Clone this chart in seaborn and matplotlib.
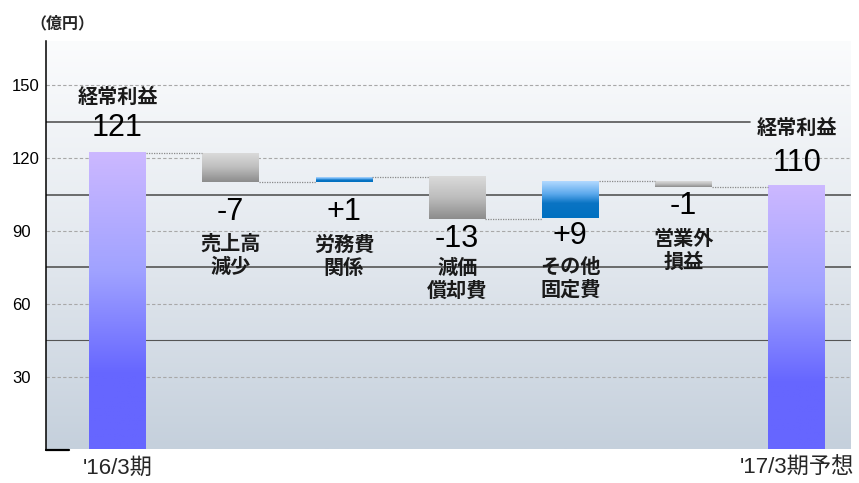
import numpy as np
import pandas as pd
import matplotlib
matplotlib.use("Agg")
import matplotlib.pyplot as plt
from matplotlib.colors import LinearSegmentedColormap
import seaborn as sns

# ---------------- data ----------------
steps = ["'16/3期", "売上高減少", "労務費関係", "減価償却費", "その他固定費", "営業外損益", "'17/3期予想"]
bar_low = [0.0, 110.3, 110.3, 95.0, 95.5, 108.3, 0.0]
bar_high = [122.2, 122.2, 112.1, 112.7, 110.6, 110.6, 108.6]
kinds = ["total", "down", "up", "down", "up", "down", "total"]
value_labels = ["121", "-7", "+1", "-13", "+9", "-1", "110"]
item_labels = ["経常利益", "売上高\n減少", "労務費\n関係", "減価\n償却費", "その他\n固定費", "営業外\n損益", "経常利益"]
xtick_labels = ["'16/3期", "'17/3期予想"]
xtick_pos = [0, 6]
yticks = [30, 60, 90, 120, 150]
major_lines = [45, 75, 105, 135]
unit_label = "（億円）"

# ---------------- layout / style ----------------
num_offset_px = [25, -30, -30, -20, -18, -19, 23]
item_offset_px = [56, -74, -75, -61, -61, -64, 58]
major_line_xmax = [1.0, 1.0, 1.0, 0.875]
major_line_width = [0.8, 1.2, 1.2, 1.2]

sns.set_style("white")
plt.rcParams["font.family"] = ["Liberation Sans", "Noto Sans CJK JP"]

fig = plt.figure(figsize=(8.59, 4.83), dpi=100)
W, H = 859, 483
ax = fig.add_axes([46 / W, 1 - 449.5 / H, (851 - 46) / W, (449.5 - 41) / H])

df = pd.DataFrame({"step": steps, "span": np.array(bar_high) - np.array(bar_low)})
sns.barplot(data=df, x="step", y="span", order=steps, width=0.5, ax=ax,
            color="white", edgecolor="none", zorder=2)

# background gradient
bg_cmap = LinearSegmentedColormap.from_list("bg", ["#c5d0dc", "#e4e9ef", "#fbfcfd"])
ax.imshow(np.linspace(1, 0, 256).reshape(-1, 1), cmap=bg_cmap, aspect="auto",
          extent=[0, 1, 0, 1], transform=ax.transAxes, zorder=0, vmin=0, vmax=1)

cmaps = {
    "total": LinearSegmentedColormap.from_list(
        "tot", [(0, "#6666ff"), (0.25, "#6666ff"), (0.6, "#a0a2ff"), (1.0, "#ccb8ff")]),
    "down": LinearSegmentedColormap.from_list(
        "dn", [(0, "#8c8c8c"), (0.5, "#bdbdbd"), (1.0, "#dadada")]),
    "up": LinearSegmentedColormap.from_list(
        "up", [(0, "#0070c0"), (0.4, "#0a74c4"), (0.65, "#5aa8ec"), (1.0, "#b2d9ff")]),
}

patches = list(ax.patches)
for i, p in enumerate(patches):
    lo, hi = bar_low[i], bar_high[i]
    p.set_y(lo)
    p.set_height(hi - lo)
    p.set_facecolor("none")
    x0 = p.get_x()
    x1 = x0 + p.get_width()
    grad = np.linspace(1, 0, 128).reshape(-1, 1)
    ax.imshow(grad, cmap=cmaps[kinds[i]], aspect="auto", extent=[x0, x1, lo, hi],
              zorder=2, vmin=0, vmax=1)

# grid lines
for v in yticks:
    ax.axhline(v, xmax=0.997, color="#a8a8a8", lw=0.8, ls=(0, (3, 2)), zorder=1)
for v, xm, lw in zip(major_lines, major_line_xmax, major_line_width):
    ax.axhline(v, xmax=xm, color="#555555", lw=lw, ls="-", zorder=1)

# connectors
for i in range(len(steps) - 1):
    lvl = bar_low[i] if kinds[i] == "down" else bar_high[i]
    ax.plot([i + 0.25, i + 0.75], [lvl, lvl], ls=(0, (1, 1)), color="#8a8a8a",
            lw=0.9, zorder=3)

# labels
for i in range(len(steps)):
    anchor = bar_high[i] if kinds[i] == "total" else bar_low[i]
    ax.annotate(value_labels[i], xy=(i, anchor), xytext=(0, num_offset_px[i]),
                textcoords="offset pixels", ha="center", va="center",
                fontsize=22, color="black", zorder=5)
    ax.annotate(item_labels[i], xy=(i, anchor), xytext=(0, item_offset_px[i]),
                textcoords="offset pixels", ha="center", va="center",
                fontsize=14.5, fontweight="bold", linespacing=1.25,
                color="#1a1a1a", zorder=5)

# axes
xl = (-0.632, 6.48)
ax.set_xlim(*xl)
ax.set_ylim(0, 168.3)
ax.set_yticks(yticks)
ax.set_yticklabels([str(v) for v in yticks], fontsize=12)
ax.set_xticks(xtick_pos)
ax.set_xticklabels(xtick_labels, fontsize=16)
ax.tick_params(axis="y", direction="in", length=6.5, width=1.3, pad=24.5, colors="black")
ax.tick_params(axis="x", length=0, pad=6)
for lab in ax.get_yticklabels():
    lab.set_ha("left")
ax.set_xlabel("")
ax.set_ylabel("")
for s in ["top", "right", "bottom"]:
    ax.spines[s].set_visible(False)
ax.spines["left"].set_color("black")
ax.spines["left"].set_linewidth(1.1)
ax.spines["left"].set_zorder(4)
ax.plot([xl[0], xl[0] + 23 / 113.17], [0, 0], color="black", lw=1.6,
        clip_on=False, zorder=4)

fig.text(30 / W, 1 - 23 / H, unit_label, fontsize=11.5, fontweight="bold",
         ha="left", va="center", family=["Noto Sans CJK JP"])

fig.savefig("out.png", dpi=100)
